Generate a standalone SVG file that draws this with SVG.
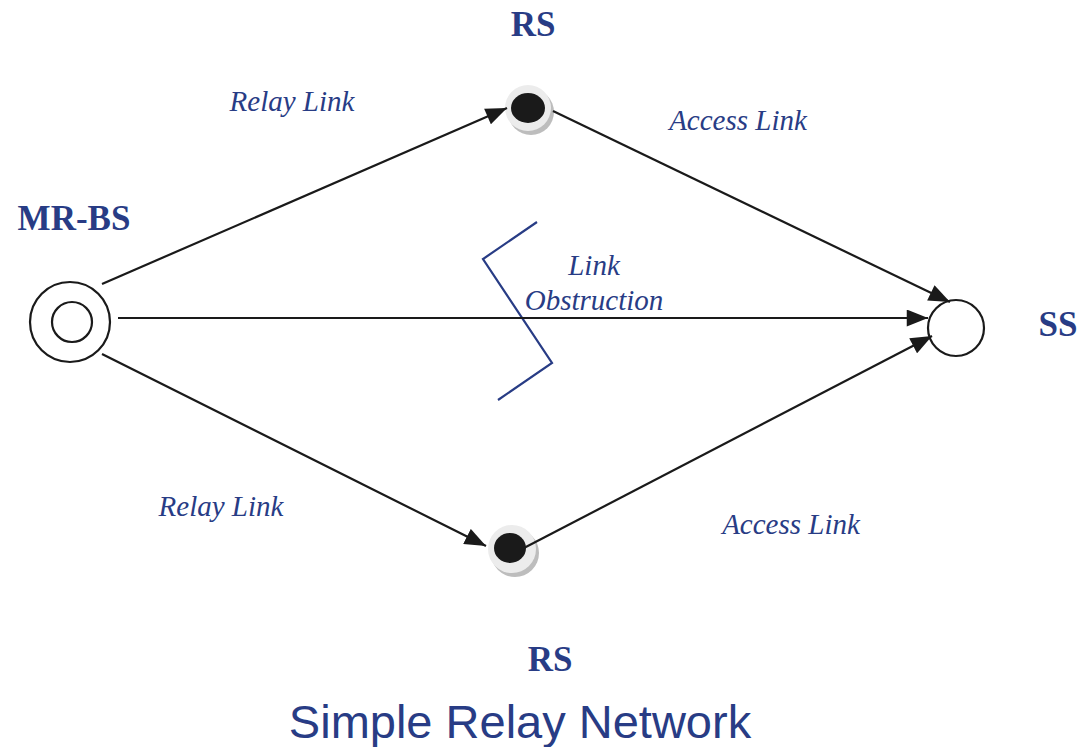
<svg xmlns="http://www.w3.org/2000/svg" width="1084" height="747" viewBox="0 0 1084 747">
<defs>
<style>
.lbl{font-family:"Liberation Serif","Times New Roman",serif;font-style:italic;font-size:29px;fill:#283c85;text-anchor:middle}
.nm{font-family:"Liberation Serif","Times New Roman",serif;font-weight:bold;font-size:35px;fill:#283c85;text-anchor:middle}
.ttl{font-family:"Liberation Sans",Arial,sans-serif;font-size:47px;fill:#283c85;text-anchor:middle}
.edge{stroke:#1a1a1a;stroke-width:2.2;fill:none}
.ring{stroke:#1a1a1a;stroke-width:2.2;fill:#fff}
</style>
<marker id="ahb" viewBox="0 0 20 16" refX="20" refY="8" markerWidth="22" markerHeight="17" markerUnits="userSpaceOnUse" orient="auto">
<path d="M0,0 L20,8 L0,16 z" fill="#1a1a1a"/>
</marker>
</defs>
<rect width="1084" height="747" fill="#fff"/>
<g id="obstruction">
<polyline points="537,222 483,259 552,363 498,400" fill="none" stroke="#283c85" stroke-width="2.2"/>
<text class="lbl" x="594" y="275">Link</text>
<text class="lbl" x="594" y="310">Obstruction</text>
</g>
<g id="mrbs">
<circle class="ring" cx="70" cy="322" r="40"/>
<circle class="ring" cx="72" cy="322" r="20"/>
<text class="nm" x="74" y="230">MR-BS</text>
</g>
<g id="rs-top">
<circle cx="531" cy="112" r="23" fill="#bdbdbd"/>
<circle cx="528" cy="108" r="23" fill="#ececec"/>
<ellipse cx="528" cy="108" rx="17" ry="15" fill="#1a1a1a"/>
<text class="nm" x="533" y="36">RS</text>
</g>
<g id="rs-bottom">
<circle cx="515" cy="553" r="24" fill="#bdbdbd"/>
<circle cx="512" cy="549" r="24" fill="#ececec"/>
<ellipse cx="510" cy="548" rx="16" ry="15" fill="#1a1a1a"/>
<text class="nm" x="550" y="671">RS</text>
</g>
<g id="ss">
<circle class="ring" cx="956" cy="328" r="28"/>
<text class="nm" x="1058" y="336">SS</text>
</g>
<g id="connectors">
<line class="edge" x1="102" y1="284" x2="507" y2="108" marker-end="url(#ahb)"/>
<line class="edge" x1="553" y1="111" x2="950" y2="302" marker-end="url(#ahb)"/>
<line class="edge" x1="118" y1="318" x2="928" y2="318" marker-end="url(#ahb)"/>
<line class="edge" x1="102" y1="354" x2="486" y2="546" marker-end="url(#ahb)"/>
<line class="edge" x1="522" y1="549" x2="932" y2="336" marker-end="url(#ahb)"/>
</g>
<g id="labels">
<text class="lbl" x="292" y="111">Relay Link</text>
<text class="lbl" x="738" y="130">Access Link</text>
<text class="lbl" x="221" y="516">Relay Link</text>
<text class="lbl" x="791" y="534">Access Link</text>
</g>
<text class="ttl" x="520" y="738">Simple Relay Network</text>
</svg>
